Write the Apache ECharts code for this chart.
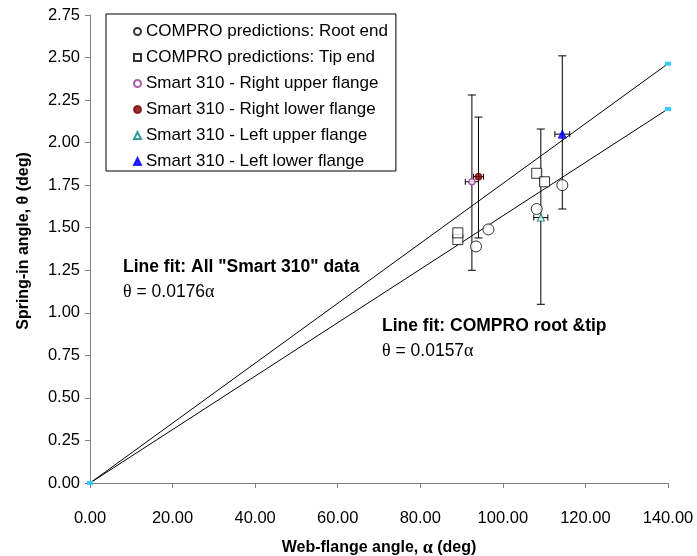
<!DOCTYPE html>
<html>
<head>
<meta charset="utf-8">
<script src="https://cdn.jsdelivr.net/npm/echarts@6/dist/echarts.min.js"></script>
<style>
html,body{margin:0;padding:0;background:#fff;}
#c{width:697px;height:556px;}
</style>
</head>
<body>
<div id="c"></div>
<script>
// ---- data ----
const xTickValues = [0, 20, 40, 60, 80, 100, 120, 140];
const yTickValues = [0, 0.25, 0.5, 0.75, 1, 1.25, 1.5, 1.75, 2, 2.25, 2.5, 2.75];

const rootX = [93.5, 96.5, 108.2, 114.4];
const rootY = [1.39, 1.49, 1.61, 1.75];

const tipX = [89.1, 89.1, 108.2, 110.1];
const tipY = [1.43, 1.47, 1.82, 1.77];

const rightUpperX = [92.5];
const rightUpperY = [1.77];
const rightUpperLo = [1.25];
const rightUpperHi = [2.28];
const rightUpperXErr = [1.6];

const rightLowerX = [94.1];
const rightLowerY = [1.80];
const rightLowerLo = [1.44];
const rightLowerHi = [2.15];
const rightLowerXErr = [1.2];

const leftUpperX = [109.2];
const leftUpperY = [1.56];
const leftUpperLo = [1.05];
const leftUpperHi = [2.08];
const leftUpperXErr = [1.7];

const leftLowerX = [114.4];
const leftLowerY = [2.05];
const leftLowerLo = [1.61];
const leftLowerHi = [2.51];
const leftLowerXErr = [1.8];

const fitX = [0, 140];
const fitSmartY = [0, 2.464];
const fitComproY = [0, 2.198];

const seriesNames = [
  'COMPRO predictions: Root end',
  'COMPRO predictions: Tip end',
  'Smart 310 - Right upper flange',
  'Smart 310 - Right lower flange',
  'Smart 310 - Left upper flange',
  'Smart 310 - Left lower flange'
];

// ---- build ----
const zip = (a, b) => a.map((v, i) => [v, b[i]]);
const errData = [];
[[rightUpperX, rightUpperY, rightUpperLo, rightUpperHi, rightUpperXErr],
 [rightLowerX, rightLowerY, rightLowerLo, rightLowerHi, rightLowerXErr],
 [leftUpperX, leftUpperY, leftUpperLo, leftUpperHi, leftUpperXErr],
 [leftLowerX, leftLowerY, leftLowerLo, leftLowerHi, leftLowerXErr]].forEach(s => {
  s[0].forEach((x, i) => errData.push([x, s[1][i], s[2][i], s[3][i], s[4][i]]));
});

const FONT = '"Liberation Sans", Arial, sans-serif';
const SERIF = '"Liberation Serif", "DejaVu Serif", serif';

const chart = echarts.init(document.getElementById('c'), null, {renderer: 'canvas'});

const option = {
  animation: false,
  backgroundColor: '#fff',
  textStyle: {fontFamily: FONT},
  grid: {left: 90, right: 29, top: 15, bottom: 73, containLabel: false, outerBoundsMode: 'none'},
  xAxis: {
    type: 'value', min: 0, max: 140, interval: 20,
    axisLine: {show: true, onZero: false, lineStyle: {color: '#808080', width: 1}},
    axisTick: {show: true, inside: false, length: 5, lineStyle: {color: '#808080'}},
    axisLabel: {color: '#000', fontSize: 16.5, fontFamily: FONT, margin: 27,
      formatter: v => v.toFixed(2)},
    splitLine: {show: false},
    name: '{b|Web-flange angle, }{g|α}{b| (deg)}',
    nameLocation: 'middle', nameGap: 56,
    nameTextStyle: {rich: {
      b: {fontSize: 16, fontWeight: 'bold', fontFamily: FONT, color: '#000'},
      g: {fontSize: 18, fontWeight: 'bold', fontFamily: SERIF, color: '#000'}
    }}
  },
  yAxis: {
    type: 'value', min: 0, max: 2.75, interval: 0.25,
    axisLine: {show: true, onZero: false, lineStyle: {color: '#808080', width: 1}},
    axisTick: {show: true, inside: false, length: 5, lineStyle: {color: '#808080'}},
    axisLabel: {color: '#000', fontSize: 16.5, fontFamily: FONT, margin: 10,
      formatter: v => v.toFixed(2)},
    splitLine: {show: false},
    name: '{b|Spring-in angle, }{g|θ}{b| (deg)}',
    nameLocation: 'middle', nameGap: 58, nameRotate: 90,
    nameTextStyle: {padding: [0, 0, 0, 16], rich: {
      b: {fontSize: 16, fontWeight: 'bold', fontFamily: FONT, color: '#000'},
      g: {fontSize: 16, fontWeight: 'bold', fontFamily: FONT, color: '#000'}
    }}
  },
  legend: {
    orient: 'vertical', left: 106, top: 14,
    padding: [9, 8, 1, 27],
    itemGap: 9, itemWidth: 7, itemHeight: 7,
    backgroundColor: '#fff', borderColor: '#000', borderWidth: 1, borderRadius: 0,
    textStyle: {fontSize: 17, fontFamily: FONT, color: '#000'},
    data: seriesNames.map(n => ({name: n}))
  },
  series: [
    {
      name: 'fitSmart', type: 'line', data: zip(fitX, fitSmartY),
      lineStyle: {color: '#000', width: 1}, symbol: 'rect', symbolSize: [6, 4],
      itemStyle: {color: '#33CCFF'}, showSymbol: true, z: 2, silent: true
    },
    {
      name: 'fitCompro', type: 'line', data: zip(fitX, fitComproY),
      lineStyle: {color: '#000', width: 1}, symbol: 'rect', symbolSize: [6, 4],
      itemStyle: {color: '#33CCFF'}, showSymbol: true, z: 2, silent: true
    },
    {
      name: 'errors', type: 'custom', data: errData, z: 3, silent: true,
      renderItem: function (params, api) {
        const x = api.value(0), y = api.value(1), lo = api.value(2), hi = api.value(3), xe = api.value(4);
        const top = api.coord([x, hi]);
        const bot = api.coord([x, lo]);
        const l = api.coord([x - xe, y]);
        const r = api.coord([x + xe, y]);
        const st = {stroke: '#000', lineWidth: 1};
        const ln = (x1, y1, x2, y2) => ({type: 'line', shape: {x1, y1, x2, y2}, style: st});
        return {
          type: 'group',
          children: [
            ln(top[0], top[1], bot[0], bot[1]),
            ln(top[0] - 4, top[1], top[0] + 4, top[1]),
            ln(bot[0] - 4, bot[1], bot[0] + 4, bot[1]),
            ln(l[0], l[1], r[0], r[1]),
            ln(l[0], l[1] - 3, l[0], l[1] + 3),
            ln(r[0], r[1] - 3, r[0], r[1] + 3)
          ]
        };
      }
    },
    {
      name: seriesNames[0], type: 'scatter', data: zip(rootX, rootY), z: 5,
      symbol: 'circle', symbolSize: 11,
      itemStyle: {color: '#fff', borderColor: '#000', borderWidth: 1}
    },
    {
      name: seriesNames[1], type: 'scatter', data: zip(tipX, tipY), z: 5,
      symbol: 'rect', symbolSize: 10,
      itemStyle: {color: '#fff', borderColor: '#000', borderWidth: 1}
    },
    {
      name: seriesNames[2], type: 'scatter', data: zip(rightUpperX, rightUpperY), z: 6,
      symbol: 'circle', symbolSize: 6,
      itemStyle: {color: '#fff', borderColor: '#993399', borderWidth: 1.5}
    },
    {
      name: seriesNames[3], type: 'scatter', data: zip(rightLowerX, rightLowerY), z: 6,
      symbol: 'circle', symbolSize: 7,
      itemStyle: {color: '#800000', borderColor: '#800000', borderWidth: 1}
    },
    {
      name: seriesNames[4], type: 'scatter', data: zip(leftUpperX, leftUpperY), z: 6,
      symbol: 'triangle', symbolSize: 7,
      itemStyle: {color: '#fff', borderColor: '#008080', borderWidth: 1.2}
    },
    {
      name: seriesNames[5], type: 'scatter', data: zip(leftLowerX, leftLowerY), z: 6,
      symbol: 'triangle', symbolSize: 8,
      itemStyle: {color: '#0000FF', borderColor: '#0000FF', borderWidth: 1}
    }
  ],
  graphic: [
    {type: 'text', left: 123, top: 258, z: 10,
      style: {text: 'Line fit: All "Smart 310" data', fontSize: 17.5, fontWeight: 'bold', fontFamily: FONT, fill: '#000'}},
    {type: 'text', left: 123, top: 283, z: 10,
      style: {text: '{g|θ}{t| = 0.0176}{g|α}', rich: {
        g: {fontSize: 18, fontFamily: SERIF, fill: '#000'},
        t: {fontSize: 17.5, fontFamily: FONT, fill: '#000'}}}},
    {type: 'text', left: 382, top: 317, z: 10,
      style: {text: 'Line fit: COMPRO root &tip', fontSize: 17.5, fontWeight: 'bold', fontFamily: FONT, fill: '#000'}},
    {type: 'text', left: 382, top: 342, z: 10,
      style: {text: '{g|θ}{t| = 0.0157}{g|α}', rich: {
        g: {fontSize: 18, fontFamily: SERIF, fill: '#000'},
        t: {fontSize: 17.5, fontFamily: FONT, fill: '#000'}}}}
  ]
};
chart.setOption(option);
</script>
</body>
</html>
